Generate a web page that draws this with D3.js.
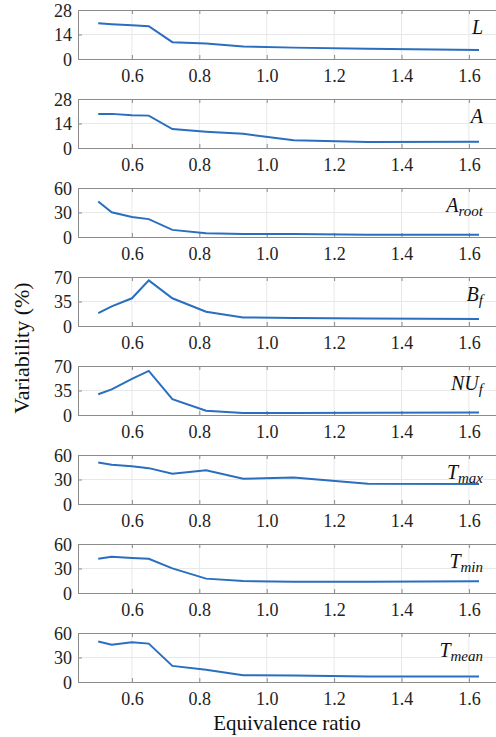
<!DOCTYPE html>
<html>
<head>
<meta charset="utf-8">
<script src="https://cdn.jsdelivr.net/npm/d3@7"></script>
</head>
<body style="margin:0">
<svg id="chart" width="496" height="737"></svg>
<script>
var phi = [0.5, 0.54, 0.6, 0.65, 0.72, 0.82, 0.93, 1.08, 1.3, 1.63];

var xTicks = [0.6, 0.8, 1.0, 1.2, 1.4, 1.6];

// one entry per panel: label main part, subscript, y max
var labels = ['L', 'A', 'A', 'B', 'NU', 'T', 'T', 'T'];
var subs = ['', '', 'root', 'f', 'f', 'max', 'min', 'mean'];
var yMax = [28, 28, 60, 70, 70, 60, 60, 60];

var valL = [20.4, 19.9, 19.3, 18.7, 9.6, 8.9, 7.2, 6.5, 5.9, 5.2];
var valA = [19.5, 19.5, 18.7, 18.5, 10.8, 9.3, 8.1, 4.4, 3.4, 3.6];
var valAroot = [43.4, 30.2, 24.4, 21.9, 8.7, 4.6, 3.7, 3.7, 2.9, 2.9];
var valBf = [18.3, 28, 39.6, 65.2, 39.6, 20.3, 12.1, 11.6, 10.6, 10.1];
var valNUf = [29.7, 36.6, 51.5, 63, 22.7, 6, 2.8, 2.8, 3.2, 3.7];
var valTmax = [50.9, 48, 46.3, 43.9, 37.2, 41.4, 31, 32.3, 24.8, 24.4];
var valTmin = [42, 44.5, 42.9, 42, 30.2, 17.6, 14.7, 13.9, 13.9, 14.3];
var valTmean = [49.5, 45.7, 48.7, 47, 19.7, 15.1, 8.4, 8, 6.7, 6.7];

var series = [valL, valA, valAroot, valBf, valNUf, valTmax, valTmin, valTmean];

var svg = d3.select('#chart');
var fam = "'Liberation Serif'";

function serifText(sel) {
    return sel.attr('font-family', fam).style('font-family', fam, 'important');
}

var left = 78,
    top0 = 10,
    step = 89,
    ph = 49;

var x = d3.scaleLinear().domain([0.44, 1.7]).range([left, left + 1.26 * 337]);
var xr = x.range();

series.forEach(function (vals, i) {
    var top = top0 + i * step;
    var y = d3.scaleLinear().domain([0, yMax[i]]).range([top + ph, top]);
    var yTicks = [0, yMax[i] / 2, yMax[i]];
    var g = svg.append('g').attr('class', 'panel panel-' + i);

    // grid
    g.selectAll('.vgrid').data(xTicks).enter().append('line')
        .attr('class', 'vgrid')
        .attr('x1', function (d) { return x(d); }).attr('x2', function (d) { return x(d); })
        .attr('y1', top).attr('y2', top + ph)
        .attr('stroke', '#e8e8e8');
    g.append('line')
        .attr('x1', xr[0]).attr('x2', xr[1])
        .attr('y1', y(yMax[i] / 2)).attr('y2', y(yMax[i] / 2))
        .attr('stroke', '#e8e8e8');

    // axes, ticks inward like matlab
    var xa = g.append('g').attr('transform', 'translate(0,' + (top + ph) + ')')
        .call(d3.axisBottom(x).tickValues(xTicks).tickFormat(d3.format('.1f')).tickSizeInner(-4).tickSizeOuter(0).tickPadding(10));
    var xt = g.append('g').attr('transform', 'translate(0,' + top + ')')
        .call(d3.axisTop(x).tickValues(xTicks).tickFormat('').tickSizeInner(-4).tickSizeOuter(0));
    var ya = g.append('g').attr('transform', 'translate(' + left + ',0)')
        .call(d3.axisLeft(y).tickValues(yTicks).tickFormat(d3.format('d')).tickSizeInner(-4).tickSizeOuter(0).tickPadding(6));
    var yr = g.append('g').attr('transform', 'translate(' + xr[1] + ',0)')
        .call(d3.axisRight(y).tickValues(yTicks).tickFormat('').tickSizeInner(-4).tickSizeOuter(0));

    [xa, xt, ya, yr].forEach(function (a) {
        serifText(a);
        a.select('.domain').attr('stroke', '#8c8c8c');
        a.selectAll('.tick line').attr('stroke', '#8c8c8c');
        serifText(a.selectAll('.tick text')).attr('font-size', 18).attr('fill', '#222');
    });
    xa.selectAll('.tick text').attr('dy', '0.71em');
    ya.selectAll('.tick text').attr('dy', '0.34em');

    // data line
    var line = d3.line()
        .x(function (d, j) { return x(phi[j]); })
        .y(function (d) { return y(d); });
    g.append('path').datum(vals)
        .attr('d', line)
        .attr('fill', 'none')
        .attr('stroke', '#2a6ebf')
        .attr('stroke-width', 2);

    // label
    var t = serifText(g.append('text'))
        .attr('x', 483).attr('y', top + 24)
        .attr('text-anchor', 'end')
        .attr('font-style', 'italic')
        .attr('font-size', 20)
        .attr('fill', '#111');
    t.append('tspan').text(labels[i]);
    if (subs[i]) {
        t.append('tspan').attr('font-size', 15).attr('dy', 4).text(subs[i]);
    }
});

// axis titles
serifText(svg.append('text'))
    .attr('transform', 'translate(29,348) rotate(-90)')
    .attr('text-anchor', 'middle')
    .attr('font-size', 22)
    .attr('fill', '#111')
    .text('Variability (%)');

serifText(svg.append('text'))
    .attr('x', 287).attr('y', 730)
    .attr('text-anchor', 'middle')
    .attr('font-size', 21)
    .attr('fill', '#111')
    .text('Equivalence ratio');
</script>
</body>
</html>
